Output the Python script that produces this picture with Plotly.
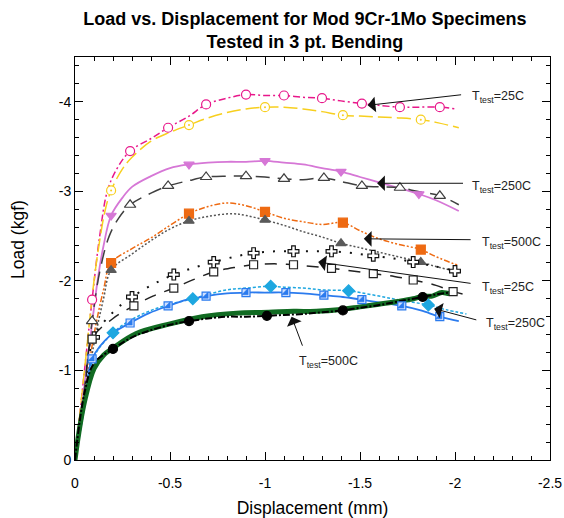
import plotly.graph_objects as go

# ---- data (displacement mm, load kgf) ----
pink_x = [0, -0.04, -0.09, -0.13, -0.17, -0.22, -0.29, -0.4, -0.49, -0.6, -0.69, -0.8, -0.9, -1.0, -1.1, -1.2, -1.3, -1.4, -1.51, -1.6, -1.71, -1.8, -1.92, -2.0]
pink_y = [0, -0.8, -1.79, -2.5, -3.0, -3.25, -3.45, -3.59, -3.71, -3.84, -3.97, -4.04, -4.08, -4.07, -4.07, -4.05, -4.04, -4.01, -3.98, -3.96, -3.94, -3.94, -3.94, -3.92]
pink_mx = [-0.09, -0.29, -0.49, -0.69, -0.9, -1.1, -1.3, -1.51, -1.71, -1.92]
pink_my = [-1.79, -3.45, -3.71, -3.97, -4.08, -4.07, -4.04, -3.98, -3.94, -3.94]

yel_x = [0, -0.05, -0.1, -0.13, -0.16, -0.19, -0.25, -0.3, -0.4, -0.5, -0.6, -0.7, -0.8, -0.9, -1.0, -1.1, -1.2, -1.3, -1.41, -1.5, -1.6, -1.7, -1.82, -1.9, -2.02]
yel_y = [0, -1.0, -2.0, -2.45, -2.8, -3.01, -3.25, -3.38, -3.56, -3.66, -3.74, -3.82, -3.88, -3.92, -3.94, -3.94, -3.92, -3.89, -3.85, -3.84, -3.83, -3.82, -3.80, -3.77, -3.71]
yel_mx = [-0.19, -0.6, -1.0, -1.41, -1.82]
yel_my = [-3.01, -3.74, -3.94, -3.85, -3.80]

vio_x = [0, -0.06, -0.12, -0.15, -0.19, -0.25, -0.3, -0.4, -0.5, -0.6, -0.7, -0.8, -0.9, -1.0, -1.1, -1.2, -1.3, -1.4, -1.5, -1.6, -1.7, -1.81, -1.9, -2.02]
vio_y = [0, -1.0, -2.02, -2.39, -2.73, -2.93, -3.05, -3.17, -3.26, -3.3, -3.32, -3.33, -3.33, -3.34, -3.32, -3.3, -3.26, -3.22, -3.16, -3.1, -3.04, -2.97, -2.9, -2.78]
vio_mx = [-0.19, -0.6, -1.0, -1.4, -1.81]
vio_my = [-2.73, -3.3, -3.34, -3.22, -2.97]

dg_x = [0, -0.05, -0.09, -0.13, -0.18, -0.23, -0.29, -0.4, -0.49, -0.6, -0.69, -0.8, -0.9, -1.0, -1.1, -1.2, -1.31, -1.4, -1.51, -1.6, -1.71, -1.8, -1.92, -2.02]
dg_y = [0, -0.8, -1.55, -2.1, -2.5, -2.7, -2.85, -2.98, -3.06, -3.12, -3.16, -3.17, -3.17, -3.16, -3.14, -3.13, -3.15, -3.11, -3.06, -3.05, -3.04, -3.0, -2.95, -2.85]
dg_mx = [-0.09, -0.29, -0.49, -0.69, -0.9, -1.1, -1.31, -1.51, -1.71, -1.92]
dg_my = [-1.55, -2.85, -3.06, -3.16, -3.17, -3.14, -3.15, -3.06, -3.04, -2.95]

or_x = [0, -0.05, -0.1, -0.15, -0.19, -0.3, -0.4, -0.5, -0.6, -0.7, -0.8, -0.9, -1.0, -1.1, -1.2, -1.3, -1.41, -1.5, -1.6, -1.7, -1.82, -1.9, -2.02]
or_y = [0, -0.7, -1.4, -1.9, -2.2, -2.36, -2.48, -2.62, -2.75, -2.83, -2.87, -2.84, -2.77, -2.7, -2.66, -2.63, -2.65, -2.56, -2.47, -2.41, -2.35, -2.27, -2.17]
or_mx = [-0.19, -0.6, -1.0, -1.41, -1.82]
or_my = [-2.2, -2.75, -2.77, -2.65, -2.35]

gt_x = [0, -0.05, -0.1, -0.15, -0.19, -0.3, -0.4, -0.5, -0.6, -0.7, -0.83, -0.9, -1.0, -1.1, -1.2, -1.3, -1.4, -1.5, -1.6, -1.7, -1.82, -1.9, -2.02]
gt_y = [0, -0.65, -1.3, -1.8, -2.12, -2.3, -2.45, -2.58, -2.67, -2.72, -2.75, -2.73, -2.68, -2.62, -2.55, -2.49, -2.42, -2.37, -2.32, -2.27, -2.21, -2.16, -2.1]
gt_mx = [-0.19, -0.6, -1.0, -1.4, -1.82]
gt_my = [-2.12, -2.67, -2.68, -2.42, -2.21]

cr_x = [0, -0.05, -0.1, -0.2, -0.3, -0.41, -0.52, -0.63, -0.73, -0.84, -0.94, -1.05, -1.15, -1.25, -1.35, -1.46, -1.57, -1.68, -1.78, -1.9, -2.0, -2.05]
cr_y = [0, -0.7, -1.37, -1.65, -1.82, -1.96, -2.07, -2.15, -2.21, -2.27, -2.31, -2.33, -2.33, -2.33, -2.33, -2.31, -2.28, -2.25, -2.21, -2.16, -2.11, -2.07]
cr_mx = [-0.1, -0.3, -0.52, -0.73, -0.94, -1.15, -1.35, -1.57, -1.78, -2.0]
cr_my = [-1.37, -1.82, -2.07, -2.21, -2.31, -2.33, -2.33, -2.28, -2.21, -2.11]

sq_x = [0, -0.05, -0.09, -0.2, -0.31, -0.41, -0.52, -0.63, -0.73, -0.84, -0.94, -1.05, -1.15, -1.25, -1.35, -1.46, -1.57, -1.68, -1.78, -1.9, -1.99, -2.05]
sq_y = [0, -0.7, -1.35, -1.58, -1.72, -1.83, -1.92, -2.02, -2.1, -2.15, -2.18, -2.19, -2.18, -2.16, -2.14, -2.11, -2.08, -2.05, -2.01, -1.95, -1.88, -1.85]
sq_mx = [-0.09, -0.31, -0.52, -0.73, -0.94, -1.15, -1.35, -1.57, -1.78, -1.99]
sq_my = [-1.35, -1.72, -1.92, -2.1, -2.18, -2.18, -2.14, -2.08, -2.01, -1.88]

di_x = [0, -0.05, -0.1, -0.2, -0.3, -0.4, -0.5, -0.62, -0.7, -0.8, -0.9, -1.03, -1.1, -1.2, -1.3, -1.44, -1.5, -1.6, -1.7, -1.86, -1.95, -2.06]
di_y = [0, -0.6, -1.15, -1.42, -1.57, -1.67, -1.74, -1.8, -1.85, -1.9, -1.92, -1.94, -1.93, -1.92, -1.9, -1.89, -1.87, -1.83, -1.79, -1.73, -1.68, -1.63]
di_mx = [-0.2, -0.62, -1.03, -1.44, -1.86]
di_my = [-1.42, -1.8, -1.94, -1.89, -1.73]

bl_x = [0, -0.05, -0.09, -0.19, -0.29, -0.39, -0.49, -0.59, -0.69, -0.8, -0.9, -1.0, -1.11, -1.2, -1.31, -1.41, -1.51, -1.6, -1.72, -1.82, -1.92, -2.02]
bl_y = [0, -0.6, -1.13, -1.4, -1.53, -1.64, -1.72, -1.79, -1.83, -1.86, -1.87, -1.87, -1.87, -1.86, -1.84, -1.82, -1.79, -1.76, -1.72, -1.67, -1.6, -1.55]
bl_mx = [-0.09, -0.29, -0.49, -0.69, -0.9, -1.11, -1.31, -1.51, -1.72, -1.92]
bl_my = [-1.13, -1.53, -1.72, -1.83, -1.87, -1.87, -1.84, -1.79, -1.72, -1.6]

bk_x = [0, -0.05, -0.1, -0.2, -0.3, -0.4, -0.5, -0.6, -0.7, -0.8, -0.9, -1.01, -1.1, -1.2, -1.3, -1.41, -1.5, -1.6, -1.7, -1.83, -1.9, -1.98]
bk_y = [0, -0.75, -1.08, -1.24, -1.37, -1.45, -1.51, -1.55, -1.58, -1.6, -1.6, -1.61, -1.62, -1.63, -1.65, -1.67, -1.7, -1.73, -1.77, -1.82, -1.85, -1.87]
bk_mx = [-0.2, -0.6, -1.01, -1.41, -1.83]
bk_my = [-1.24, -1.55, -1.61, -1.67, -1.82]

gr_x = [0, -0.02, -0.05, -0.1, -0.15, -0.2, -0.32, -0.5, -0.67, -0.85, -1.02, -1.15, -1.27, -1.4, -1.5, -1.6, -1.7, -1.78, -1.83, -1.88, -1.93, -1.97, -2.0]
gr_y = [0, -0.3, -0.65, -1.02, -1.17, -1.25, -1.41, -1.52, -1.6, -1.64, -1.65, -1.66, -1.66, -1.68, -1.71, -1.74, -1.77, -1.8, -1.83, -1.83, -1.87, -1.86, -1.88]

x_ticks = [0, -0.5, -1, -1.5, -2, -2.5]
x_ticktext = ["0", "-0.5", "-1", "-1.5", "-2", "-2.5"]
y_ticks = [0, -1, -2, -3, -4]
y_ticktext = ["0", "-1", "-2", "-3", "-4"]

# arrow labels: text, text pos, arrow tail, arrow tip
labels = ["T<sub>test</sub>=25C", "T<sub>test</sub>=250C", "T<sub>test</sub>=500C",
          "T<sub>test</sub>=25C", "T<sub>test</sub>=250C", "T<sub>test</sub>=500C"]
label_pos = [(-2.08, -4.05), (-2.08, -3.05), (-2.13, -2.42), (-2.13, -1.92), (-2.15, -1.52), (-1.17, -1.09)]
arrow_tail = [(-2.04, -4.08), (-2.05, -3.09), (-2.09, -2.46), (-2.09, -1.97), (-2.12, -1.56), (-1.2, -1.26)]
arrow_tip = [(-1.54, -3.96), (-1.59, -3.09), (-1.52, -2.47), (-1.28, -2.21), (-1.89, -1.69), (-1.14, -1.60)]

FONT = "Arial, Liberation Sans, sans-serif"

fig = go.Figure()


def add_line(x, y, color, dash="solid", width=1.5):
    fig.add_trace(go.Scatter(x=x, y=y, mode="lines", line=dict(color=color, dash=dash, width=width),
                             line_shape="spline", hoverinfo="skip"))


def add_marks(x, y, symbol, fill, edge, size=9, lw=1.2):
    fig.add_trace(go.Scatter(x=x, y=y, mode="markers",
                             marker=dict(symbol=symbol, size=size, color=fill, line=dict(color=edge, width=lw))))


add_line(pink_x, pink_y, "#E8178A", "7px,3px,2px,3px")
add_line(yel_x, yel_y, "#F7CF1E", "14px,5px")
add_line(vio_x, vio_y, "#D677D6", "solid", 1.8)
add_line(dg_x, dg_y, "#3F3F3F", "14px,8px")
add_line(or_x, or_y, "#EE6A12", "6px,2px,2px,2px,2px,2px")
add_line(gt_x, gt_y, "#555555", "2px,2px")
add_line(cr_x, cr_y, "#111111", "2px,9px", 2)
add_line(sq_x, sq_y, "#222222", "12px,9px")
add_line(di_x, di_y, "#1EA7E0", "3px,2px")
add_line(bl_x, bl_y, "#2B7BEE", "solid", 1.8)
add_line(gr_x, gr_y, "#116B22", "solid", 5)
add_line(bk_x, bk_y, "#000000", "7px,2px,2px,2px", 2)

add_marks(pink_mx, pink_my, "circle", "white", "#E8178A", 9)
add_marks(yel_mx, yel_my, "circle", "white", "#F7CF1E", 9)
add_marks(yel_mx, yel_my, "circle", "#F7CF1E", "#F7CF1E", 2, 0)
add_marks(vio_mx, vio_my, "triangle-down", "#D677D6", "#D677D6", 9)
add_marks(dg_mx, dg_my, "triangle-up", "white", "#3F3F3F", 10)
add_marks(or_mx, or_my, "square", "#EE6A12", "#EE6A12", 9)
add_marks(gt_mx, gt_my, "triangle-up", "#5A5A5A", "#5A5A5A", 9)
add_marks(cr_mx, cr_my, "cross", "white", "#111111", 9)
add_marks(sq_mx, sq_my, "square", "white", "#222222", 8)
add_marks(di_mx, di_my, "diamond", "#1EA7E0", "#1EA7E0", 9)
add_marks(bl_mx, bl_my, "square", "#CFE0FF", "#2B7BEE", 8)
add_marks(bl_mx, bl_my, "triangle-se", "#2B7BEE", "#2B7BEE", 7, 0.5)
add_marks(bk_mx, bk_my, "circle", "#000000", "#000000", 9)

for t, p, a, b in zip(labels, label_pos, arrow_tail, arrow_tip):
    fig.add_annotation(x=b[0], y=b[1], ax=a[0], ay=a[1], xref="x", yref="y", axref="x", ayref="y",
                       text="", showarrow=True, arrowhead=1, arrowsize=2.6, arrowwidth=1, arrowcolor="#111111")
    fig.add_annotation(x=p[0], y=p[1], xref="x", yref="y", text=t, showarrow=False,
                       xanchor="left", yanchor="middle", font=dict(family=FONT, size=12.5, color="#222222"))

# y axis title, placed a bit above the axis centre as in the original
fig.add_annotation(x=-0.12, y=0.546, xref="paper", yref="paper", text="Load (kgf)", textangle=-90,
                   showarrow=False, xanchor="center", yanchor="middle",
                   font=dict(family=FONT, size=17.5, color="black"))

axis_common = dict(showline=True, linecolor="black", linewidth=1, mirror="allticks", ticks="inside",
                   tickcolor="black", ticklen=8, showgrid=False, zeroline=False, automargin=False,
                   tickfont=dict(family=FONT, size=14, color="black"))

fig.update_layout(
    width=564, height=518,
    margin=dict(l=75, r=14, t=57, b=58),
    paper_bgcolor="white", plot_bgcolor="white",
    showlegend=False,
    title=dict(text="<b>Load vs. Displacement for Mod 9Cr-1Mo Specimens<br>Tested in 3 pt. Bending</b>",
               x=0.484, xref="paper", xanchor="center", y=0.952, yanchor="middle",
               font=dict(family=FONT, size=18, color="black")),
    xaxis=dict(range=[0, -2.5], tickvals=x_ticks, ticktext=x_ticktext, ticklabelstandoff=10,
               minor=dict(dtick=0.1, ticks="inside", ticklen=4, tickcolor="black", showgrid=False),
               title=dict(text="Displacement (mm)", font=dict(family=FONT, size=17.5, color="black"), standoff=13),
               **axis_common),
    yaxis=dict(range=[0, -4.5], tickvals=y_ticks, ticktext=y_ticktext,
               minor=dict(dtick=0.2, ticks="inside", ticklen=4, tickcolor="black", showgrid=False),
               **axis_common),
)

# drop the default page margin so the 564x518 figure fills the window exactly
fig.write_html("out.html", config={"displayModeBar": False},
               post_script="document.body.style.margin='0';document.body.style.overflow='hidden';")
